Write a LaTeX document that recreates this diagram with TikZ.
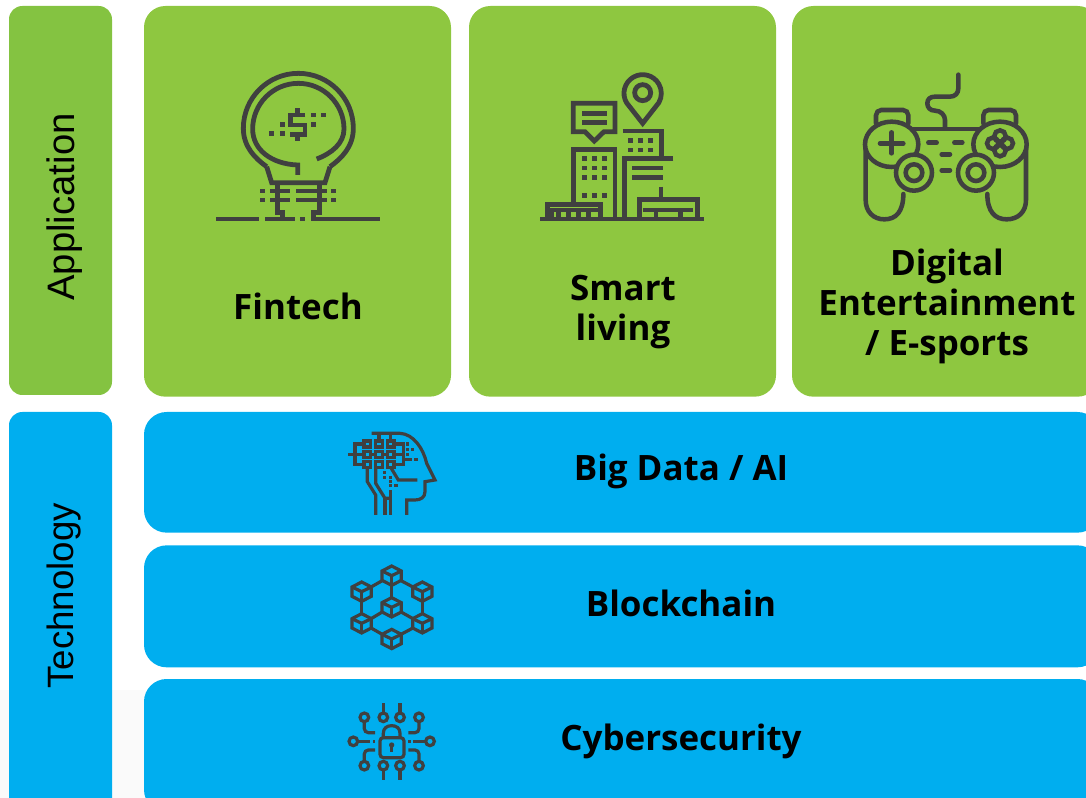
\documentclass[tikz,border=0pt]{standalone}
\usepackage{fontspec}
\setmainfont{Open Sans}
\newfontfamily\sidefont{Liberation Sans}
\usetikzlibrary{positioning}

\definecolor{sideGreen}{HTML}{84C341}
\definecolor{appGreen}{HTML}{8EC740}
\definecolor{techBlue}{HTML}{00AEEF}
\definecolor{iconGray}{HTML}{404040}
\definecolor{paleGray}{HTML}{FAFAFA}

\begin{document}
\begin{tikzpicture}[
    x=0.75pt, y=-0.75pt,
    panel/.style={draw=none, inner sep=0pt, outer sep=0pt, anchor=north west}, % Base of all boxes
    sideBox/.style={panel, minimum width=77.25pt, rounded corners=10pt},
    appBox/.style={panel, fill=appGreen, minimum width=230.25pt, minimum height=293pt, rounded corners=16pt},
    techBox/.style={panel, fill=techBlue, minimum width=717pt, rounded corners=17pt},
    sideText/.style={font=\sidefont\fontsize{27.5}{30}\selectfont, rotate=90},
    boxText/.style={font=\bfseries\fontsize{26.2}{30}\selectfont, align=center},
    icon/.style={draw=iconGray, line width=1pt, line cap=butt, line join=miter}, % Icon strokes
    dot/.style={fill=iconGray, draw=none}
    ]

    \clip (0,0) rectangle (1086,798);
    \fill[paleGray] (0,690) rectangle (1086,798);

    % Side boxes
    \node[sideBox, fill=sideGreen, minimum height=291.75pt] (application) at (9,6) {};
    \node[sideBox, fill=techBlue, minimum height=310pt, below=12.75pt of application.south west, anchor=north west] (technology) {};

    % Application boxes
    \node[appBox] (fintech) at (144,6) {};
    \node[appBox, right=13.5pt of fintech, anchor=west] (smart) {};
    \node[appBox, right=12pt of smart, anchor=west] (games) {};

    % Technology boxes
    \node[techBox, minimum height=90.5pt] (bigdata) at (144,412) {};
    \node[techBox, minimum height=91.5pt, below=9.5pt of bigdata.south west, anchor=north west] (blockchain) {};
    \node[techBox, minimum height=100pt, below=8.75pt of blockchain.south west, anchor=north west] (cyber) {};

    % Labels
    \node[sideText, font=\sidefont\fontsize{28.7}{30}\selectfont] (applicationText) at (65,207) {Application};
    \node[sideText] (technologyText) at (64,596) {Technology};
    \node[boxText] (fintechText) at (298,306) {Fintech};
    \node[boxText] (smartText) at (623,312) {Smart\\living};
    \node[boxText] (gamesText) at (947,306) {Digital\\Entertainment\\/ E-sports};
    \node[boxText] (bigdataText) at (681,471) {Big Data / AI};
    \node[boxText] (blockchainText) at (681,603) {Blockchain};
    \node[boxText] (cyberText) at (681,741) {Cybersecurity};

    % Fintech icon
    \begin{scope}[shift={(200,60)}, x=0.25pt, y=-0.25pt, icon/.append style={line width=3.6pt}]
        \draw[icon] (200,320) .. controls (165,295) and (130,260) .. (130,205)
            arc[start angle=180, end angle=360, radius=165]
            .. controls (460,260) and (425,295) .. (390,320);
        \draw[icon] (350,297) .. controls (395,280) and (432,250) .. (432,207)
            arc[start angle=360, end angle=180, radius=137]
            .. controls (158,270) and (215,312) .. (293,315) -- (293,345);
        \draw[icon] (200,320) -- (215,368) -- (375,368) -- (390,320);
        \draw[icon] (232,368) -- (232,458) -- (248,458) -- (248,477);
        \draw[icon] (358,368) -- (358,458) -- (340,458) -- (340,477);
        \foreach \y in {393,420} {
            \draw[icon] (210,\y) -- (270,\y);
            \draw[icon] (288,\y) -- (380,\y);
            \fill[dot] (180,\y-7) rectangle +(15,14);
            \fill[dot] (393,\y-7) rectangle +(15,14);
        }
        \draw[icon] (48,477) -- (178,477);
        \draw[icon] (195,477) -- (285,477);
        \draw[icon] (333,477) -- (540,477);
        \fill[dot] (300,470) rectangle +(15,14);
        % Dollar sign
        \draw[icon] (316,165) -- (272,165) -- (272,195) -- (315,195) -- (315,224) -- (270,224);
        \draw[icon] (293,145) -- (293,165);
        \draw[icon] (293,224) -- (293,243);
        \foreach \px/\py in {340/165, 370/165, 340/193, 247/193, 215/220, 247/220}
            \fill[dot] (\px-7,\py-7) rectangle +(15,14);
    \end{scope}

    % Smart living icon
    \begin{scope}[shift={(530,60)}, x=0.25pt, y=-0.25pt, icon/.append style={line width=3.6pt}]
        \draw[icon] (338,190) -- (289.5,128) arc[start angle=150, end angle=390, radius=56] -- cycle;
        \draw[icon] (338,98) circle[radius=24];
        \draw[icon] (130,215) -- (130,130) -- (255,130) -- (255,215) -- (222,215) -- (193,243) -- (165,215) -- cycle;
        \foreach \y in {160,187}
            \draw[icon] (157,\y) -- (230,\y);
        \draw[icon] (130,430) -- (130,268) -- (255,268) -- (255,472);
        \foreach \px in {162,193,222}
            \foreach \py in {296,324,352,407}
                \fill[dot] (\px-7,\py-7) rectangle +(15,14);
        \draw[icon] (278,213) -- (395,213) -- (395,296);
        \foreach \px in {300,330,360}
            \foreach \py in {242,270}
                \fill[dot] (\px-7,\py-7) rectangle +(15,14);
        \draw[icon] (430,296) -- (283,296) -- (283,472);
        \foreach \y in {324,352}
            \draw[icon] (307,\y) -- (400,\y);
        \draw[icon] (393,380) -- (393,418);
        \draw[icon] (328,472) -- (328,418) -- (502,418) -- (502,472);
        \draw[icon] (340,450) -- (490,450);
        \foreach \x in {378,452}
            \draw[icon] (\x,450) -- (\x,472);
        \draw[icon] (52,472) -- (52,433) -- (212,433) -- (212,472);
        \draw[icon, line width=2.5pt] (66,472) -- (66,450) -- (212,450);
        \foreach \x in {85,115,145,175}
            \draw[icon] (\x,455) -- (\x,472);
        \draw[icon] (30,477) -- (523,477);
    \end{scope}

    % Gamepad icon
    \begin{scope}[shift={(850,60)}, x=0.25pt, y=-0.25pt, icon/.append style={line width=3.4pt, line cap=round}]
        \draw[icon] (325,44) -- (325,85) .. controls (325,100) and (315,110) .. (300,110) -- (255,110)
            .. controls (240,110) and (232,118) .. (232,130) .. controls (232,142) and (240,152) .. (255,152)
            .. controls (272,152) and (285,165) .. (285,180) -- (285,205);
        \draw[icon] (190,207) -- (385,207);
        \draw[icon, rounded corners=4pt] (78,190) -- (78,150) -- (175,150) -- (175,190);
        \draw[icon, rounded corners=4pt] (400,190) -- (400,150) -- (498,150) -- (498,190);
        \draw[icon] (47,250) -- (47,420) .. controls (47,455) and (70,478) .. (103,478)
            .. controls (138,478) and (160,455) .. (160,402);
        \draw[icon] (528,250) -- (528,420) .. controls (528,455) and (505,478) .. (470,478)
            .. controls (435,478) and (412,455) .. (412,402);
        \draw[icon, fill=appGreen] (125,253) ellipse[x radius=80, y radius=68];
        \draw[icon, fill=appGreen] (450,253) ellipse[x radius=80, y radius=68];
        \foreach \x in {192,378} {
            \draw[icon, fill=appGreen] (\x,338) circle[radius=54];
            \draw[icon] (\x,338) circle[radius=25];
        }
        \draw[icon] (90,250) -- (160,250);
        \draw[icon] (125,217) -- (125,280);
        \foreach \dx/\dy in {-22/0, 22/0, 0/-22, 0/22}
            \draw[icon] (450+\dx,250+\dy) circle[radius=17];
        \draw[icon] (235,248) -- (260,248);
        \draw[icon] (313,248) -- (337,248);
        \draw[icon] (275,283) -- (300,283);
        \draw[icon] (275,331) -- (300,331);
    \end{scope}

    % AI head icon
    \begin{scope}[shift={(330,420)}, x=0.25pt, y=-0.25pt, icon/.append style={line width=2.4pt}]
        \draw[icon] (125,40) -- (210,40) .. controls (250,42) and (280,85) .. (290,130) -- (315,180) -- (285,185) -- (285,215)
            .. controls (285,232) and (272,240) .. (255,240) -- (230,240) -- (230,285);
        \draw[icon] (55,103) -- (220,103);
        \draw[icon] (112,72) -- (75,72) -- (75,133) -- (112,133);
        \draw[icon] (182,72) -- (220,72) -- (220,133) -- (182,133);
        \foreach \x in {147,182}
            \draw[icon] (\x,40) -- (\x,72);
        \foreach \x in {112,147,182}
            \foreach \y in {72,103,133}
                \draw[icon, fill=techBlue] (\x-10,\y-9) rectangle +(20,18);
        \draw[icon] (220,118) -- (245,118);
        \draw[icon] (112,142) -- (112,185) -- (137,225) -- (137,285);
        \draw[icon] (165,235) -- (165,285);
        \draw[icon] (182,210) -- (182,285);
        \draw[icon] (137,142) -- (137,190) -- (165,235) -- (182,235);
        \draw[icon] (182,142) -- (205,180) -- (262,180);
        \foreach \px/\py in {233/72, 233/88, 248/88, 233/103, 258/118, 163/157, 163/172, 182/172, 182/185, 182/197, 198/197}
            \fill[dot] (\px-5,\py-5) rectangle +(10,10);
    \end{scope}

    % Blockchain icon
    \begin{scope}[shift={(330,555)}, x=0.25pt, y=-0.25pt, icon/.append style={line width=2.4pt}]
        \foreach \x/\y/\xx/\yy in {185/92/185/127, 95/140/95/175, 277/140/277/175, 125/95/155/78, 215/78/247/95,
                125/190/155/172, 215/172/247/190, 125/220/155/237, 215/237/247/220}
            \draw[icon] (\x,\y) -- (\xx,\yy);
        \foreach \cx/\cy in {185/62, 95/110, 277/110, 185/157, 95/205, 277/205, 185/252} {
            \draw[icon] (\cx,\cy-29) -- (\cx+29,\cy-14) -- (\cx+29,\cy+14) -- (\cx,\cy+29) -- (\cx-29,\cy+14) -- (\cx-29,\cy-14) -- cycle;
            \draw[icon] (\cx-29,\cy-14) -- (\cx,\cy) -- (\cx+29,\cy-14);
            \draw[icon] (\cx,\cy) -- (\cx,\cy+29);
        }
    \end{scope}

    % Cybersecurity icon
    \begin{scope}[shift={(330,690)}, x=0.25pt, y=-0.25pt, icon/.append style={line width=2.4pt}]
        \draw[icon, rounded corners=2.5pt] (150,143) rectangle (222,203);
        \draw[icon] (160,143) -- (160,130) .. controls (160,115) and (170,107) .. (185,107)
            .. controls (200,107) and (210,115) .. (210,130) -- (210,143);
        \fill[dot] (185,165) circle[radius=8];
        \draw[icon] (185,165) -- (185,187);
        \foreach \cx/\cy in {103/82, 160/82, 210/82, 267/82, 70/154, 300/154, 103/227, 160/227, 210/227, 267/227}
            \draw[icon] (\cx,\cy) circle[radius=13];
        \foreach \x in {160,210} {
            \draw[icon] (\x,40) -- (\x,69);
            \draw[icon] (\x,240) -- (\x,270);
        }
        \draw[icon, rounded corners=3pt] (103,95) -- (103,128) -- (135,128);
        \draw[icon, rounded corners=3pt] (267,95) -- (267,128) -- (235,128);
        \draw[icon, rounded corners=3pt] (103,214) -- (103,180) -- (135,180);
        \draw[icon, rounded corners=3pt] (267,214) -- (267,180) -- (235,180);
        \draw[icon] (83,154) -- (120,154);
        \draw[icon] (287,154) -- (250,154);
        \fill[dot] (128,150) rectangle +(8,8);
        \fill[dot] (234,150) rectangle +(8,8);
    \end{scope}

\end{tikzpicture}
\end{document}
